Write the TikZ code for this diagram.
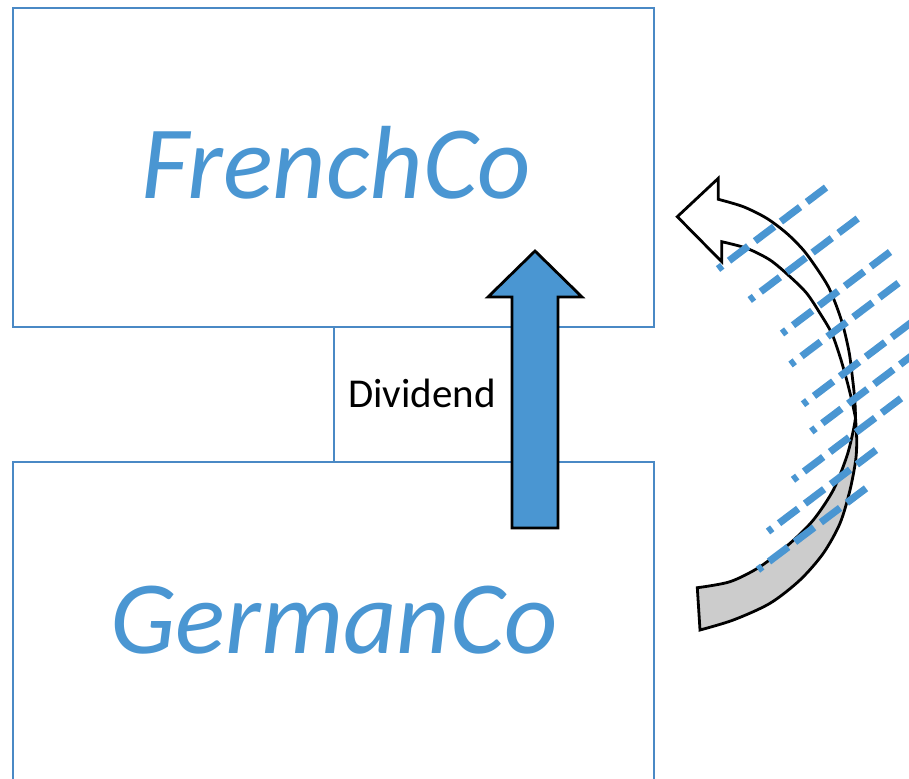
\documentclass[tikz,border=0pt]{standalone}
\usepackage{fontspec}
\setmainfont{Carlito}
\definecolor{boxline}{HTML}{4A89C5}
\definecolor{accent}{HTML}{4A96D2}
\definecolor{tailgray}{HTML}{CCCCCC}
\begin{document}
\begin{tikzpicture}[x=1pt,y=-1pt,
  company/.style={draw=boxline, line width=2pt, minimum width=641pt, inner sep=0pt},
  coname/.style={text=accent, font=\itshape\fontsize{104}{110}\selectfont, anchor=base, inner sep=0pt},
  label/.style={font=\fontsize{41}{45}\selectfont, anchor=base, inner sep=0pt},
  outlined/.style={draw=black, line width=2.8pt, line join=miter},
  stripe/.style={draw=accent, line width=7.2pt, dash pattern=on 24pt off 8.5pt}]
\useasboundingbox (0,0) rectangle (909,778);
\clip (0,0) rectangle (909,778);

% the two companies
\node[company, minimum height=319pt] (french) at (333.5,167.5) {};
\node[company, minimum height=328pt] (german) at (333.5,626) {};
\node[coname] (frtext) at (336,198.3) {FrenchCo};
\node[coname] (detext) at (334,653) {GermanCo};

% dividend cell between them
\draw[boxline, line width=2pt] (french.south) -- (german.north);
\node[label] (divtext) at (422,407.5) {Dividend};

% upward block arrow
\draw[outlined, fill=accent]
  (512,528) -- (512,297) -- (488,297) -- (535,251) -- (582,297) -- (558,297) -- (558,528) -- cycle;

% curved arrow: shaded tail
\draw[outlined, fill=tailgray]
  plot[smooth] coordinates {(697.3,587.7) (730,581.7) (760,566.7) (790,543.3) (813.3,520) (833.3,490) (846.7,456.7) (853,432) (855.5,418)}
  -- plot[smooth] coordinates {(855.5,418) (856.7,440) (855.7,460) (850,490) (840,523.3) (823.3,553.3) (800,580) (770,603.3) (733.3,620) (700,630)}
  -- cycle;

% curved arrow: front face and head
\draw[outlined, fill=white]
  plot[smooth] coordinates {(855.5,418) (854.8,400) (852.7,380) (849.3,353.3) (843.3,326.7) (836.7,306.7) (828.3,286.7) (816.7,268.3) (803.3,250) (786.7,233.3) (766.7,218.3) (743.3,206.7) (718.3,199.3)}
  -- (718.3,178.3) -- (677.3,216.7) -- (721.7,261.7) -- (721.7,241.7)
  -- plot[smooth] coordinates {(721.7,241.7) (746.7,248.3) (770,260) (790,276.7) (806.7,293.3) (820,313.3) (831.7,333.3) (840,356.7) (846.7,380) (851.7,400) (855.5,418)}
  -- cycle;

% dashed stripes across the curved arrow
\foreach \px/\py in {718/269, 749.7/300, 782/333.5, 790.5/364.5, 803/404.2,
                     811.3/431.5, 793/479.8, 768/531.5, 758/569.8}
  \draw[stripe] (\px+108,\py-81.5) -- (\px,\py);
\end{tikzpicture}
\end{document}
